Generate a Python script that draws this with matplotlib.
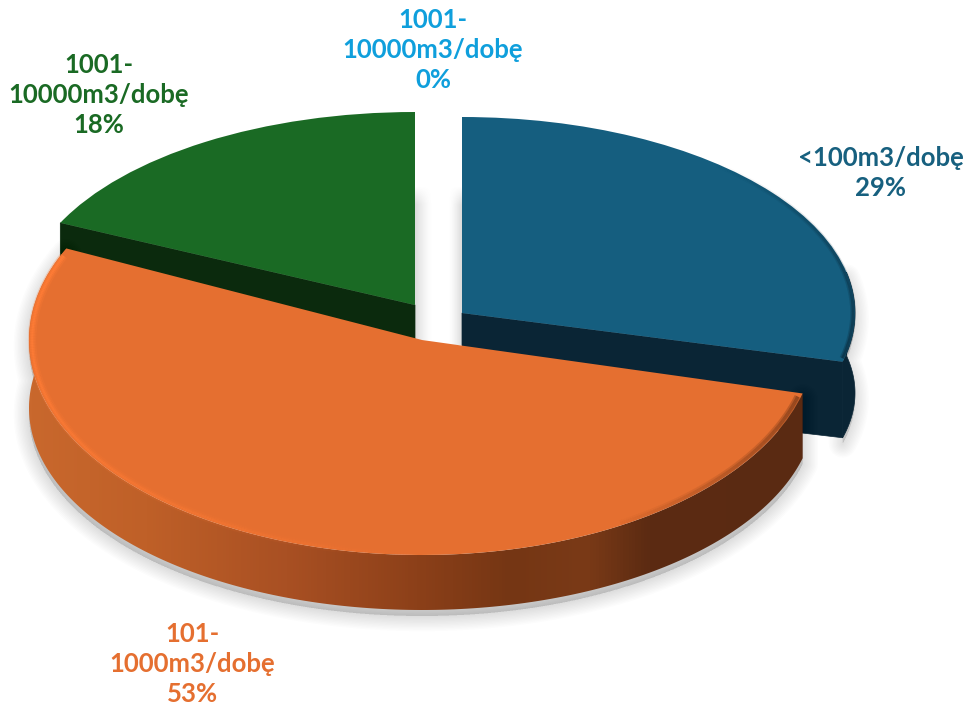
import numpy as np
import matplotlib
matplotlib.use('agg')
import matplotlib.pyplot as plt
from matplotlib.collections import LineCollection
from matplotlib.colors import LinearSegmentedColormap, to_rgb
from matplotlib.patches import Polygon
from matplotlib.transforms import Affine2D

# chart data, clockwise from twelve o'clock
categories = ['<100m3/dobę', '101-\n1000m3/dobę', '1001-\n10000m3/dobę', '1001-\n10000m3/dobę']
shares = [29, 53, 18, 0]

top_colors = ['#155e7f', '#e56f30', '#1a6a24', '#0e9fdb']
cut_colors = ['#0a2535', '#5c2b12', '#0b2a0d', '#0e9fdb']
label_colors = ['#17607f', '#e56f30', '#1a6a24', '#0f9fdc']
label_pos = [(881, 173), (192, 664), (99, 95), (433, 50)]

# top ellipse and bottom ellipse of each slice, in pixels
top_geo = [(462, 313, 393, 196), (422, 340, 393, 215), (415, 305, 392, 193)]
low_geo = [(462, 393, 393, 180), (422, 408, 393, 202), (415, 385, 392, 180)]


def arc(t1, t2, geo, n=200):
    cx, cy, a, b = geo
    t = np.radians(np.linspace(t1, t2, n))
    return np.column_stack([cx + a * np.cos(t), cy - b * np.sin(t)])


def soft_shadow(pts, spread=20, alpha=0.010, dy=4, z=1):
    for lw in np.arange(spread, 0, -2):
        ax.add_patch(Polygon(pts + [0, dy], closed=True, fc='black', ec='black', lw=lw,
                             alpha=alpha, joinstyle='round', zorder=z))


def gap_shade(x0, x1, y0, y1, z=1):
    # grey fading away from the slice edge and towards the top
    fx = np.linspace(1, 0, 40) ** 1.5
    fy = np.clip(np.linspace(0, 1, 60) / 0.12, 0, 1)
    rgba = np.zeros((60, 40, 4))
    rgba[..., :3] = 0.35
    rgba[..., 3] = 0.22 * np.outer(fy, fx)
    ax.imshow(rgba, extent=(x0, x1, y1, y0), aspect='auto', zorder=z, interpolation='bilinear')


def fading_rim(pts, color, widths, a0, a1, z):
    segs = np.stack([pts[:-1], pts[1:]], axis=1)
    fade = np.clip(np.linspace(a0, a1, len(segs)), 0, 1)
    rgb = np.tile(np.array(to_rgb(color)), (len(segs), 1))
    for lw, k in widths:
        ax.add_collection(LineCollection(segs, colors=np.column_stack([rgb, fade * k]),
                                         linewidths=lw, zorder=z), autolim=False)


plt.rcParams['font.family'] = ['Lato', 'DejaVu Sans']
fig = plt.figure(figsize=(9.68, 7.10), dpi=100)
ax = fig.add_axes([0, 0, 1, 1])

wedges, _ = ax.pie(shares, startangle=90, counterclock=False, colors=top_colors)
ax.set_aspect('auto')
ax.axis('off')
ax.set_xlim(0, 968)
ax.set_ylim(710, 0)

blue, orange, green = wedges[0], wedges[1], wedges[2]
for w, geo, z in [(blue, top_geo[0], 5), (orange, top_geo[1], 8), (green, top_geo[2], 3)]:
    cx, cy, a, b = geo
    w.set_transform(Affine2D().scale(a, -b).translate(cx, cy) + ax.transData)
    w.set_zorder(z)
wedges[3].set_visible(False)

# grey in the gap left by the empty slice
gap_shade(415, 433, 185, 340)
gap_shade(462, 448, 185, 345)

# green: only the cut face shows
g_top, g_low = top_geo[2], low_geo[2]
g_edge = arc(green.theta2, green.theta2, g_top, 1)[0]
g_edge2 = arc(green.theta2, green.theta2, g_low, 1)[0]
ax.add_patch(Polygon([(g_top[0], g_top[1]), g_edge, g_edge2, (g_low[0], g_low[1])],
                     fc=cut_colors[2], ec=cut_colors[2], lw=0.5, zorder=2))

# blue: outer wall and cut face
b_top, b_low = top_geo[0], low_geo[0]
b_wall = np.vstack([arc(blue.theta1, 12, b_top), arc(12, blue.theta1, b_low)])
soft_shadow(b_wall, dy=6)
ax.add_patch(Polygon(b_wall, fc=cut_colors[0], ec=cut_colors[0], lw=0.5, zorder=4))
b_edge = arc(blue.theta1, blue.theta1, b_top, 1)[0]
b_edge2 = arc(blue.theta1, blue.theta1, b_low, 1)[0]
ax.add_patch(Polygon([(b_top[0], b_top[1]), b_edge, b_edge2, (b_low[0], b_low[1])],
                     fc=cut_colors[0], ec=cut_colors[0], lw=0.5, zorder=4))
# dark soft rim on the blue top, kept inside the slice
b_rim = arc(blue.theta1 + 1, 50, b_top) * 0.995 + np.array(b_top[:2]) * 0.005
fading_rim(b_rim, cut_colors[0], [(4, 0.3), (2, 0.5)], 1.0, 0.0, 6)

# orange: wall with a left-to-right gradient
o_top, o_low = top_geo[1], low_geo[1]
o_wall = np.vstack([arc(orange.theta2, orange.theta1, o_top), arc(orange.theta1, orange.theta2, o_low)])
soft_shadow(o_wall, spread=22, dy=6, z=6)
wall_cmap = LinearSegmentedColormap.from_list('wall', [
    (0.00, '#c9682d'), (0.15, '#bf6028'), (0.33, '#a95023'), (0.50, '#8c4019'),
    (0.62, '#753614'), (0.72, '#7a3a17'), (0.80, '#5c2b12'), (1.00, '#5a2a12')])
grad = np.linspace(0, 1, 256).reshape(1, -1)
im = ax.imshow(grad, cmap=wall_cmap, extent=(29, 805, 620, 240), aspect='auto', zorder=7)
im.set_clip_path(Polygon(o_wall, closed=True, transform=ax.transData))

# bevel on the orange rim, bright on the left and dark on the right
o_rim = arc(orange.theta1 + 2, orange.theta1 + 130, o_top, 300) * 0.992 + np.array(o_top[:2]) * 0.008
fading_rim(o_rim, '#ff7c36', [(6, 0.3), (3.5, 0.55), (1.5, 0.9)], 1.0, -0.1, 9)
o_rim2 = arc(orange.theta2 - 1, orange.theta2 - 45, o_top, 120) * 0.992 + np.array(o_top[:2]) * 0.008
fading_rim(o_rim2, cut_colors[1], [(5, 0.3), (2.5, 0.4)], 1.0, 0.05, 9)

# labels
for name, share, col, pos in zip(categories, shares, label_colors, label_pos):
    ax.text(pos[0], pos[1], f'{name}\n{share}%', color=col, fontsize=18.5, fontweight='bold',
            ha='center', va='center', linespacing=1.32, zorder=10)

ax.set_xlim(0, 968)
ax.set_ylim(710, 0)
fig.savefig('out.png', dpi=100, facecolor='white')
plt.close(fig)
